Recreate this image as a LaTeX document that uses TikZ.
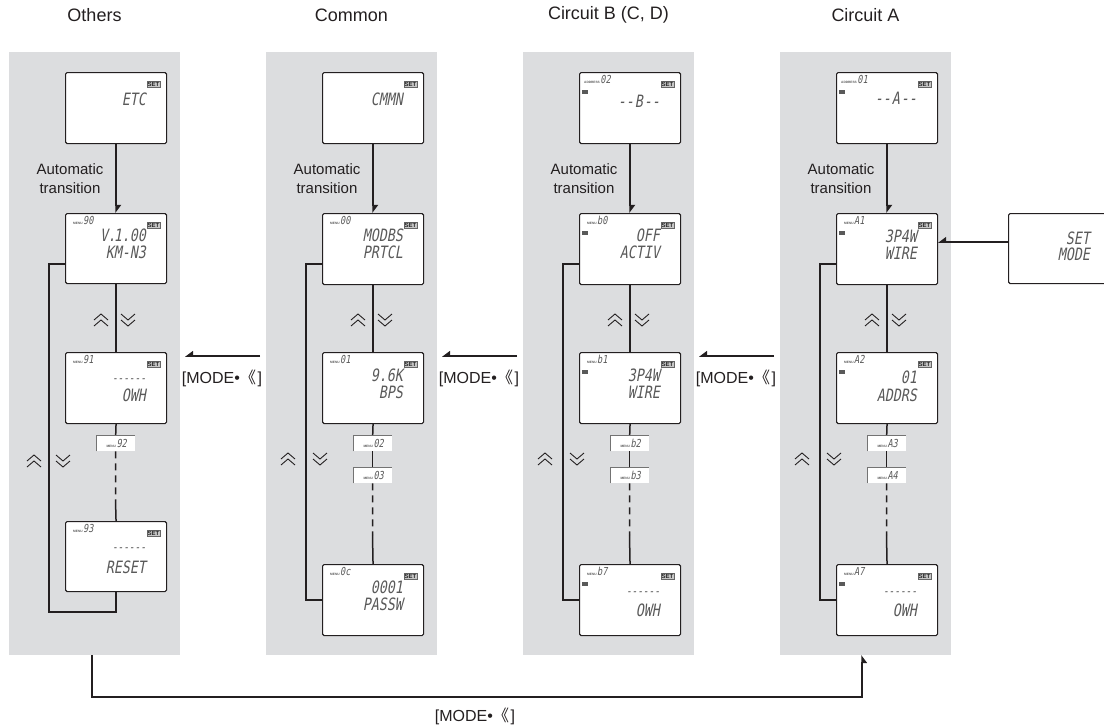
\documentclass[tikz,border=0pt]{standalone}
\usepackage{fontspec}
\setmainfont{Liberation Sans}
\newfontfamily\lcdfont[FakeSlant=0.18,FakeStretch=0.78,Ligatures=ResetAll]{DejaVu Sans Mono}
\newfontfamily\cjkfont{Noto Sans CJK SC}
\usetikzlibrary{arrows.meta}
\definecolor{panelgray}{HTML}{DCDDDF}
\definecolor{linec}{HTML}{231F20}
\definecolor{lcdtext}{HTML}{5A5A5A}
\newcommand\modekey{[MODE•{\cjkfont 《}\kern0.1em]}
\newcommand\tagtxt[2]{{\fontsize{3.2}{4}\selectfont\bfseries #1}\kern0.6pt{\lcdfont\fontsize{11}{11}\selectfont #2}}
\newcommand\setic[1]{\node[seticon] (#1-set) at ([xshift=-7pt,yshift=-9pt]#1.north east) {SET};}
\newcommand\menuic[2]{\node[tagtext] (#1-menu) at ([xshift=8pt,yshift=-11pt]#1.north west) {\tagtxt{MENU}{#2}};}
\newcommand\addric[2]{\node[tagtext] (#1-addr) at ([xshift=5pt,yshift=-11pt]#1.north west) {\tagtxt{ADDRESS}{#2}};}
\newcommand\ctic[1]{\node[cticon] (#1-ct) at ([xshift=3pt,yshift=-18pt]#1.north west) {};}
\newcommand\lcdline[4]{\node[lcd] (#1-#2) at ([xshift=-21pt,yshift=-#3pt]#1.north east) {#4};}
\newcommand\lcddash[2]{\node[lcdd] (#1-d) at ([xshift=-21pt,yshift=-#2pt]#1.north east) {-{}-{}-{}-{}-{}-};}
\newcommand\tabdraw[2]{\draw[tabline] (#1.south west) -- (#1.north west) -- (#1.north east);
  \node[tagtext, anchor=center] (#1-l) at ([xshift=1pt]#1.center) {\tagtxt{MENU}{#2}};}
\tikzset{
  pics/upchev/.style={code={\draw[chev] (-7,0)--(0,-6)--(7,0); \draw[chev] (-7,6)--(0,0)--(7,6);}},
  pics/downchev/.style={code={\draw[chev] (-7,-6)--(0,0)--(7,-6); \draw[chev] (-7,0)--(0,6)--(7,0);}}
}
\begin{document}
\begin{tikzpicture}[x=1pt,y=-1pt,
  panel/.style={fill=panelgray, draw=none, minimum width=171, minimum height=603, inner sep=0, anchor=north west},
  lcdbox/.style={draw=linec, line width=1.1, fill=white, rounded corners=1.5, minimum width=101, inner sep=0, anchor=north west},
  tabbox/.style={fill=white, minimum width=38, minimum height=16, inner sep=0, anchor=north west},
  tabline/.style={draw=black!55, line width=0.7},
  flow/.style={draw=linec, line width=1.5},
  loopl/.style={draw=linec, line width=2},
  chev/.style={draw=linec, line width=0.9},
  lcd/.style={font=\lcdfont\fontsize{17}{17}\selectfont, text=lcdtext, inner sep=0, anchor=base east},
  lcdd/.style={font=\lcdfont\fontsize{12}{12}\selectfont, text=lcdtext, inner sep=0, anchor=base east},
  seticon/.style={fill=black!22, draw=black!60, line width=0.4, font=\fontsize{6}{6}\selectfont\bfseries, text=black!85, inner sep=0.7pt, anchor=north east},
  tagtext/.style={inner sep=0, text=lcdtext, anchor=base west},
  cticon/.style={fill=black!65, minimum width=6, minimum height=4, inner sep=0, anchor=north west},
  title/.style={font=\fontsize{18}{21}\selectfont, text=linec},
  autolbl/.style={font=\fontsize{15}{19}\selectfont, text=linec, align=center},
  modelbl/.style={font=\fontsize{16}{19}\selectfont, text=linec},
  autoarrow/.style={flow, -{Triangle[harpoon,length=7pt,width=10pt]}},
  modearrow/.style={flow, -{Triangle[harpoon,swap,length=7pt,width=10pt]}}
]
\useasboundingbox (0,0) rectangle (1104,726);

% panels
\node[panel] (p0) at (9,52) {};
\node[panel] (p1) at (266,52) {};
\node[panel] (p2) at (523,52) {};
\node[panel] (p3) at (780,52) {};

% titles
\node[title] (h0) at (94.5,15) {Others};
\node[title] (h1) at (351.5,15) {Common};
\node[title] (h2) at (608.5,15) {Circuit B (C, D)};
\node[title] (h3) at (865.5,15) {Circuit A};

% ================= Others =================
\node[lcdbox, minimum height=71] (Ot) at (65,72) {};
\node[lcdbox, minimum height=70] (Os) at (65,213) {};
\node[lcdbox, minimum height=71] (Or) at (65,352) {};
\node[tabbox] (Oa) at (96.5,435) {};
\node[lcdbox, minimum height=70] (Oz) at (65,521) {};
\setic{Ot} \lcdline{Ot}{1}{33}{ETC}
\setic{Os} \menuic{Os}{90} \lcdline{Os}{1}{28}{V.\kern-2pt1.00} \lcdline{Os}{2}{45}{KM-N3}
\setic{Or} \menuic{Or}{91} \lcddash{Or}{30} \lcdline{Or}{2}{49}{OWH}
\tabdraw{Oa}{92}
\setic{Oz} \menuic{Oz}{93} \lcddash{Oz}{30} \lcdline{Oz}{2}{52}{RESET}
\node[autolbl] (Oauto) at (70,179) {Automatic\\transition};
\draw[autoarrow] (Ot.south) -- (Os.north);
\draw[flow] (Os.south) -- (Or.north);
\draw[flow] (Or.south) -- (Oa.north);
\coordinate (Od) at (115.5,500);
\draw[flow, dash pattern=on 7pt off 5pt] (Oa.south) -- (Od);
\draw[flow] (Od) -- (Oz.north);
\draw[loopl] ([yshift=-15pt]Os.west) -- ++(-16,0) |- ([yshift=-20pt]Oz.south) -- (Oz.south);
\pic at (101,320) {upchev};
\pic at (128,320) {downchev};
\pic at (34,461) {upchev};
\pic at (63,461) {downchev};

% ================= Common =================
\begin{scope}[xshift=257pt]
\node[lcdbox, minimum height=71] (Ct) at (65,72) {};
\node[lcdbox, minimum height=71] (Cs) at (65,213) {};
\node[lcdbox, minimum height=71] (Cr) at (65,352) {};
\node[tabbox] (Ca) at (96.5,435) {};
\node[tabbox] (Cb) at (96.5,467) {};
\node[lcdbox, minimum height=71] (Cz) at (65,564) {};
\setic{Ct} \lcdline{Ct}{1}{33}{CMMN}
\setic{Cs} \menuic{Cs}{00} \lcdline{Cs}{1}{28}{MODBS} \lcdline{Cs}{2}{45}{PRTCL}
\setic{Cr} \menuic{Cr}{01} \lcdline{Cr}{1}{29}{9.6K} \lcdline{Cr}{2}{46}{BPS}
\tabdraw{Ca}{02}
\tabdraw{Cb}{03}
\setic{Cz} \menuic{Cz}{0c} \lcdline{Cz}{1}{29}{0001} \lcdline{Cz}{2}{46}{PASSW}
\node[autolbl] (Cauto) at (70,179) {Automatic\\transition};
\draw[autoarrow] (Ct.south) -- (Cs.north);
\draw[flow] (Cs.south) -- (Cr.north);
\draw[flow] (Cr.south) -- (Ca.north);
\draw[flow] (Ca.south) -- (Cb.north);
\coordinate (Cd) at (115.5,535);
\draw[flow, dash pattern=on 7pt off 5pt] (Cb.south) -- (Cd);
\draw[flow] (Cd) -- (Cz.north);
\draw[loopl] ([yshift=-15pt]Cs.west) -- ++(-16,0) |- (Cz.west);
\pic at (101,320) {upchev};
\pic at (128,320) {downchev};
\pic at (31,459) {upchev};
\pic at (63,459) {downchev};
\end{scope}

% ================= Circuit B =================
\begin{scope}[xshift=514pt]
\node[lcdbox, minimum height=71] (Bt) at (65,72) {};
\node[lcdbox, minimum height=71] (Bs) at (65,213) {};
\node[lcdbox, minimum height=71] (Br) at (65,352) {};
\node[tabbox] (Ba) at (96.5,435) {};
\node[tabbox] (Bb) at (96.5,467) {};
\node[lcdbox, minimum height=71] (Bz) at (65,564) {};
\setic{Bt} \addric{Bt}{02} \ctic{Bt} \lcdline{Bt}{1}{35}{-{}-\kern1pt B\kern1pt-{}-}
\setic{Bs} \menuic{Bs}{b0} \ctic{Bs} \lcdline{Bs}{1}{28}{OFF} \lcdline{Bs}{2}{45}{ACTIV}
\setic{Br} \menuic{Br}{b1} \ctic{Br} \lcdline{Br}{1}{29}{3P4W} \lcdline{Br}{2}{46}{WIRE}
\tabdraw{Ba}{b2}
\tabdraw{Bb}{b3}
\setic{Bz} \menuic{Bz}{b7} \ctic{Bz} \lcddash{Bz}{31} \lcdline{Bz}{2}{52}{OWH}
\node[autolbl] (Bauto) at (70,179) {Automatic\\transition};
\draw[autoarrow] (Bt.south) -- (Bs.north);
\draw[flow] (Bs.south) -- (Br.north);
\draw[flow] (Br.south) -- (Ba.north);
\draw[flow] (Ba.south) -- (Bb.north);
\coordinate (Bd) at (115.5,535);
\draw[flow, dash pattern=on 7pt off 5pt] (Bb.south) -- (Bd);
\draw[flow] (Bd) -- (Bz.north);
\draw[loopl] ([yshift=-15pt]Bs.west) -- ++(-16,0) |- (Bz.west);
\pic at (101,320) {upchev};
\pic at (128,320) {downchev};
\pic at (31,459) {upchev};
\pic at (63,459) {downchev};
\end{scope}

% ================= Circuit A =================
\begin{scope}[xshift=771pt]
\node[lcdbox, minimum height=71] (At) at (65,72) {};
\node[lcdbox, minimum height=71] (As) at (65,213) {};
\node[lcdbox, minimum height=71] (Ar) at (65,352) {};
\node[tabbox] (Aa) at (96.5,435) {};
\node[tabbox] (Ab) at (96.5,467) {};
\node[lcdbox, minimum height=71] (Az) at (65,564) {};
\setic{At} \addric{At}{01} \ctic{At} \lcdline{At}{1}{32}{-{}-\kern1pt A\kern1pt-{}-}
\setic{As} \menuic{As}{A1} \ctic{As} \lcdline{As}{1}{29}{3P4W} \lcdline{As}{2}{46}{WIRE}
\setic{Ar} \menuic{Ar}{A2} \ctic{Ar} \lcdline{Ar}{1}{31}{01} \lcdline{Ar}{2}{49}{ADDRS}
\tabdraw{Aa}{A3}
\tabdraw{Ab}{A4}
\setic{Az} \menuic{Az}{A7} \ctic{Az} \lcddash{Az}{31} \lcdline{Az}{2}{52}{OWH}
\node[autolbl] (Aauto) at (70,179) {Automatic\\transition};
\draw[autoarrow] (At.south) -- (As.north);
\draw[flow] (As.south) -- (Ar.north);
\draw[flow] (Ar.south) -- (Aa.north);
\draw[flow] (Aa.south) -- (Ab.north);
\coordinate (Ad) at (115.5,535);
\draw[flow, dash pattern=on 7pt off 5pt] (Ab.south) -- (Ad);
\draw[flow] (Ad) -- (Az.north);
\draw[loopl] ([yshift=-15pt]As.west) -- ++(-16,0) |- (Az.west);
\pic at (101,320) {upchev};
\pic at (128,320) {downchev};
\pic at (31,459) {upchev};
\pic at (63,459) {downchev};
\end{scope}

% SET MODE box
\node[lcdbox, minimum width=112, minimum height=70] (sm) at (1008,213) {};
\node[lcd] (sm1) at (1090,244) {SET};
\node[lcd] (sm2) at (1090,260) {MODE};
\draw[modearrow] (sm.west |- 0,242) -- (As.east |- 0,242);

% MODE arrows between panels
\coordinate (m1a) at (260,356); \coordinate (m1b) at (185,356);
\coordinate (m2a) at (517,356); \coordinate (m2b) at (442,356);
\coordinate (m3a) at (774,356); \coordinate (m3b) at (699,356);
\draw[modearrow] (m1a) -- (m1b);
\draw[modearrow] (m2a) -- (m2b);
\draw[modearrow] (m3a) -- (m3b);
\node[modelbl] (ml1) at (222,378) {\modekey};
\node[modelbl] (ml2) at (479,378) {\modekey};
\node[modelbl] (ml3) at (736,378) {\modekey};

% bottom return loop
\coordinate (bl) at (92,697);
\draw[modearrow] (92,655) -- (bl) -| (862,655);
\node[modelbl] (ml4) at (475,716) {\modekey};
\end{tikzpicture}
\end{document}
